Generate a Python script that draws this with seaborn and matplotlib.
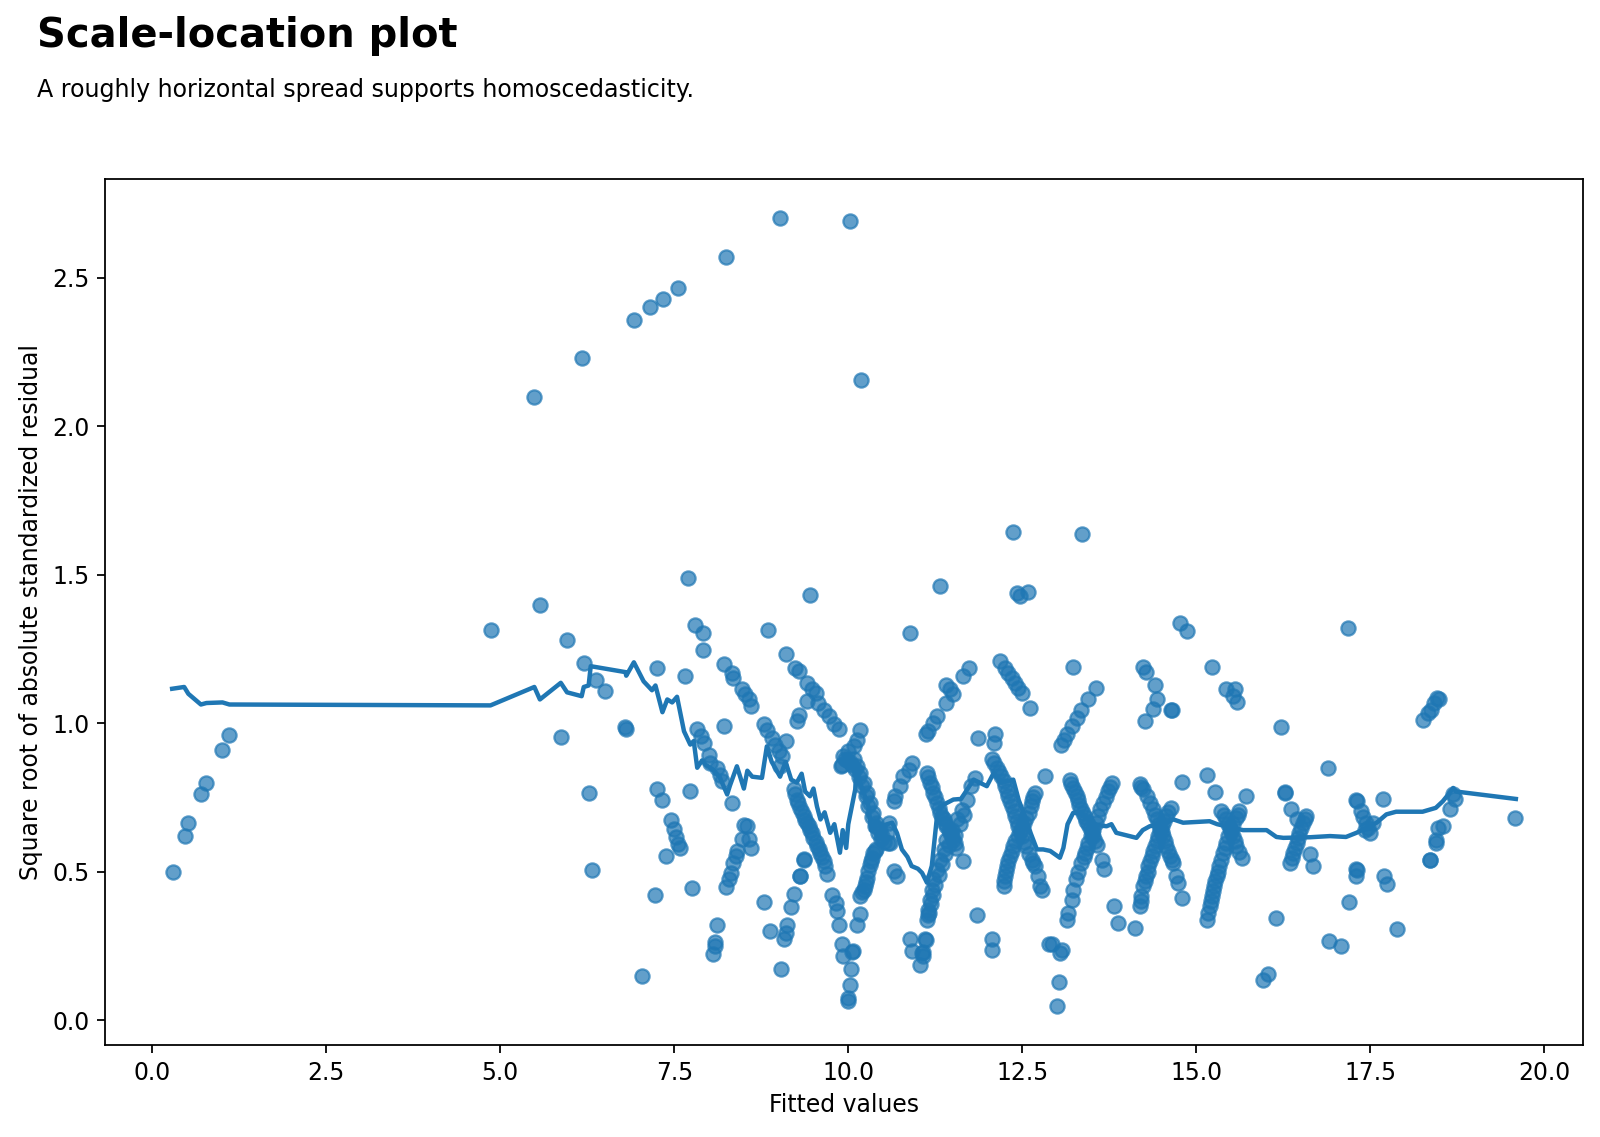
import matplotlib
matplotlib.use("Agg")
import matplotlib.pyplot as plt
import seaborn as sns
import pandas as pd

# fitted values / sqrt(|standardized residual|), grouped by x region
fitted_a = [0.30, 0.47, 0.52, 0.70, 0.77, 1.00, 1.10]
resid_a = [0.50, 0.62, 0.665, 0.76, 0.80, 0.91, 0.96]

fitted_b = [4.87, 5.49, 5.57, 5.87, 5.96, 6.18, 6.20, 6.27, 6.32, 6.37, 6.50, 6.79, 6.80, 6.92,
            7.03, 7.15, 7.22, 7.245, 7.245, 7.32, 7.34, 7.38, 7.45, 7.50, 7.53, 7.56, 7.58, 7.55,
            7.66, 7.70, 7.73, 7.75, 7.80, 7.91, 7.91]
resid_b = [1.313, 2.10, 1.398, 0.954, 1.28, 2.229, 1.203, 0.766, 0.505, 1.147, 1.108, 0.988, 0.982, 2.356,
           0.148, 2.40, 0.42, 1.186, 0.779, 0.74, 2.43, 0.552, 0.673, 0.643, 0.618, 0.592, 0.581, 2.467,
           1.158, 1.49, 0.771, 0.446, 1.332, 1.304, 1.245]

fitted_c = [7.83, 7.88, 7.93, 8.00, 8.02, 8.12, 8.16, 8.19,
            8.21, 8.25, 8.33, 8.35, 8.47, 8.52, 8.57, 8.60, 8.21, 8.33,
            8.50, 8.55, 8.47, 8.57, 8.60, 8.40, 8.38, 8.34, 8.31, 8.28, 8.25,
            8.12, 8.09, 8.08, 8.06]
resid_c = [0.979, 0.956, 0.932, 0.894, 0.866, 0.849, 0.827, 0.805,
           1.201, 2.57, 1.170, 1.153, 1.116, 1.097, 1.080, 1.059, 0.990, 0.730,
           0.656, 0.653, 0.611, 0.609, 0.581, 0.570, 0.553, 0.531, 0.497, 0.474, 0.449,
           0.319, 0.265, 0.250, 0.222]

fitted_d = [8.85, 9.02, 9.10, 9.45,
            8.785, 8.83, 8.90, 8.95, 9.00, 9.05, 9.10, 9.02,
            9.24, 9.29, 9.41, 9.48, 9.53, 9.57, 9.65, 9.72, 9.79, 9.86, 9.41, 9.29, 9.26,
            9.215, 9.26, 9.31, 9.36, 9.41, 9.45, 9.50, 9.55, 9.60, 9.65, 9.70,
            9.36, 9.37, 9.30, 9.31,
            9.22, 9.18, 8.795, 8.88, 9.12, 9.10, 9.07, 9.04,
            9.77, 9.82, 9.84, 9.86, 9.91, 9.93]
resid_d = [1.313, 2.70, 1.234, 1.433,
           0.996, 0.978, 0.950, 0.928, 0.906, 0.889, 0.940, 0.855,
           1.186, 1.175, 1.136, 1.114, 1.103, 1.069, 1.046, 1.024, 0.996, 0.979, 1.074, 1.029, 1.007,
           0.777, 0.743, 0.715, 0.687, 0.665, 0.642, 0.614, 0.586, 0.564, 0.536, 0.491,
           0.543, 0.540, 0.487, 0.484,
           0.425, 0.38, 0.397, 0.302, 0.322, 0.294, 0.272, 0.173,
           0.423, 0.395, 0.367, 0.319, 0.255, 0.215]

fitted_e = [10.02, 10.18, 10.89,
            10.07, 10.05, 10.04, 10.02, 10.00, 9.99, 10.17, 10.13,
            9.89, 9.91, 9.93, 10.00, 10.08, 10.13, 10.17,
            9.95, 10.03, 10.08, 10.13, 10.17, 10.22, 10.27, 10.31, 10.36, 10.40, 10.45, 10.49, 10.57, 10.59,
            10.17, 10.22, 10.24, 10.27, 10.29, 10.31, 10.34, 10.36, 10.40, 10.55, 10.60,
            10.65, 10.70,
            10.65, 10.67, 10.75, 10.79, 10.87, 10.91]
resid_e = [2.69, 2.157, 1.304,
           0.232, 0.228, 0.171, 0.120, 0.075, 0.064, 0.356, 0.322,
           0.855, 0.86, 0.889, 0.906, 0.922, 0.945, 0.976,
           0.88, 0.87, 0.878, 0.855, 0.833, 0.80, 0.766, 0.732, 0.698, 0.664, 0.642, 0.62, 0.597, 0.664,
           0.417, 0.439, 0.451, 0.479, 0.502, 0.524, 0.547, 0.564, 0.575, 0.631, 0.597,
           0.502, 0.485,
           0.737, 0.754, 0.788, 0.822, 0.844, 0.867]

fitted_f = [10.89, 10.91, 11.06, 11.07, 11.10, 11.11, 11.03, 11.08,
            11.13, 11.18, 11.22, 11.27, 11.32, 11.37, 11.41, 11.46, 11.51, 11.55,
            11.13, 11.14, 11.15, 11.17, 11.20, 11.22, 11.27, 11.32, 11.37, 11.41, 11.49, 11.56, 11.63, 11.70,
            11.77, 11.82,
            11.65, 11.85, 11.32,
            11.12, 11.15, 11.22, 11.27, 11.41, 11.41, 11.46, 11.51, 11.65, 11.73, 11.87]
resid_f = [0.272, 0.232, 0.226, 0.23, 0.272, 0.27, 0.187, 0.215,
           0.833, 0.80, 0.766, 0.732, 0.698, 0.676, 0.653, 0.631, 0.608, 0.58,
           0.339, 0.355, 0.372, 0.406, 0.440, 0.474, 0.507, 0.541, 0.575, 0.608, 0.642, 0.676, 0.709, 0.743,
           0.788, 0.816,
           0.535, 0.353, 1.461,
           0.962, 0.973, 1.0, 1.024, 1.068, 1.13, 1.114, 1.1, 1.158, 1.186, 0.95]

fitted_g = [12.06, 12.07, 12.11, 12.09,
            12.18, 12.25, 12.30, 12.35, 12.39, 12.44, 12.49, 12.61,
            12.37, 12.42, 12.47, 12.58,
            12.06, 12.13, 12.20, 12.25, 12.30, 12.35, 12.40, 12.44, 12.49, 12.56, 12.64, 12.68,
            12.23, 12.25, 12.28, 12.32, 12.37, 12.44, 12.52, 12.59, 12.64, 12.68,
            12.73, 12.75, 12.78, 12.83, 12.88]
resid_g = [0.272, 0.237, 0.965, 0.934,
           1.209, 1.187, 1.17, 1.153, 1.136, 1.12, 1.102, 1.052,
           1.643, 1.437, 1.428, 1.442,
           0.878, 0.85, 0.822, 0.788, 0.754, 0.72, 0.687, 0.653, 0.62, 0.586, 0.541, 0.519,
           0.451, 0.485, 0.519, 0.552, 0.586, 0.62, 0.665, 0.698, 0.737, 0.766,
           0.485, 0.451, 0.44, 0.822, 0.255]

fitted_h = [12.92, 13.07, 13.04, 13.02, 13.00, 13.36, 13.23,
            13.06, 13.10, 13.14, 13.21, 13.28, 13.35, 13.45, 13.56,
            13.18, 13.23, 13.28, 13.32, 13.37, 13.42, 13.47, 13.52, 13.57,
            13.35, 13.40, 13.45, 13.52, 13.59, 13.66, 13.73, 13.79,
            13.14, 13.16, 13.21, 13.23, 13.27, 13.30,
            13.64, 13.68, 13.82, 13.88, 14.12]
resid_h = [0.255, 0.238, 0.227, 0.128, 0.049, 1.638, 1.189,
           0.928, 0.945, 0.962, 0.99, 1.018, 1.046, 1.08, 1.119,
           0.81, 0.782, 0.754, 0.726, 0.698, 0.67, 0.647, 0.62, 0.59,
           0.53, 0.563, 0.597, 0.642, 0.687, 0.732, 0.771, 0.8,
           0.339, 0.362, 0.406, 0.44, 0.474, 0.50,
           0.541, 0.51, 0.384, 0.326, 0.311]

fitted_i = [14.24, 14.28, 14.40, 14.43, 14.38, 14.64, 14.65, 14.26, 14.76, 14.86,
            14.19, 14.24, 14.29, 14.38, 14.43, 14.48, 14.52, 14.57, 14.62, 14.67,
            14.19, 14.21, 14.24, 14.28, 14.31, 14.36, 14.40, 14.45, 14.50, 14.57, 14.64,
            14.71, 14.74, 14.80, 14.80]
resid_i = [1.189, 1.172, 1.13, 1.08, 1.048, 1.046, 1.044, 1.007, 1.338, 1.31,
           0.794, 0.777, 0.754, 0.71, 0.676, 0.647, 0.62, 0.586, 0.552, 0.53,
           0.384, 0.417, 0.451, 0.485, 0.518, 0.552, 0.586, 0.62, 0.653, 0.687, 0.715,
           0.485, 0.462, 0.41, 0.802]

fitted_j = [15.23, 15.43, 15.55, 15.53, 15.58, 15.15, 15.27, 15.71,
            15.36, 15.43, 15.48, 15.52, 15.57, 15.65,
            15.15, 15.19, 15.22, 15.25, 15.29, 15.33, 15.38, 15.43, 15.50, 15.57, 15.62]
resid_j = [1.189, 1.116, 1.114, 1.092, 1.07, 0.827, 0.768, 0.755,
           0.704, 0.676, 0.647, 0.62, 0.586, 0.547,
           0.339, 0.384, 0.417, 0.451, 0.485, 0.518, 0.563, 0.597, 0.642, 0.681, 0.704]

fitted_k = [15.96, 16.03, 16.15, 16.22, 16.89, 16.27, 16.28, 16.36, 16.44,
            16.34, 16.39, 16.44, 16.48, 16.53, 16.58, 16.63, 16.67, 16.91, 17.08]
resid_k = [0.137, 0.154, 0.345, 0.988, 0.85, 0.768, 0.766, 0.71, 0.676,
           0.53, 0.563, 0.597, 0.631, 0.665, 0.687, 0.558, 0.52, 0.267, 0.25]

fitted_l = [17.18, 17.20, 17.30, 17.31, 17.37, 17.44, 17.54, 17.49, 17.43, 17.30, 17.31, 17.30,
            17.68, 17.70, 17.74, 17.88]
resid_l = [1.321, 0.398, 0.743, 0.737, 0.704, 0.665, 0.665, 0.631, 0.64, 0.508, 0.505, 0.485,
           0.745, 0.487, 0.457, 0.308]

fitted_m = [18.25, 18.33, 18.37, 18.41, 18.46, 18.48,
            18.35, 18.36, 18.45, 18.45, 18.47, 18.54, 18.64, 18.71, 18.69, 19.58]
resid_m = [1.012, 1.035, 1.046, 1.068, 1.085, 1.08,
           0.54, 0.54, 0.597, 0.608, 0.648, 0.653, 0.71, 0.745, 0.76, 0.681]

# extra points inside the thick, overlapping bands (the "X" shapes)
fitted_band = [9.24, 9.28, 9.33, 9.38, 9.43, 9.48, 9.53, 9.58, 9.62, 9.67,
               9.98, 10.05, 10.10, 10.15, 10.20, 10.25, 10.29, 10.34, 10.38, 10.43, 10.47, 10.52,
               10.19, 10.26, 10.33, 10.38,
               11.15, 11.20, 11.25, 11.30, 11.35, 11.39, 11.44, 11.49, 11.53,
               11.16, 11.19, 11.21, 11.25, 11.30, 11.35, 11.39, 11.45, 11.53, 11.60, 11.66,
               12.09, 12.16, 12.23, 12.28, 12.33, 12.38, 12.42, 12.47, 12.53, 12.60, 12.66,
               12.24, 12.27, 12.30, 12.35, 12.40, 12.48, 12.55, 12.62, 12.66,
               13.20, 13.25, 13.30, 13.35, 13.40, 13.45, 13.50, 13.55,
               13.38, 13.43, 13.48, 13.56, 13.62, 13.70, 13.76,
               14.21, 14.33, 14.41, 14.46, 14.50, 14.55, 14.60, 14.65,
               14.20, 14.26, 14.30, 14.34, 14.38, 14.43, 14.48, 14.53, 14.60,
               15.40, 15.45, 15.50, 15.55, 15.61,
               15.17, 15.21, 15.24, 15.27, 15.31, 15.36, 15.41, 15.46, 15.53, 15.60,
               16.37, 16.42, 16.46, 16.51, 16.56, 17.40, 17.47]
resid_band = [0.76, 0.73, 0.70, 0.675, 0.655, 0.63, 0.60, 0.575, 0.55, 0.52,
              0.875, 0.86, 0.845, 0.82, 0.79, 0.755, 0.72, 0.685, 0.655, 0.63, 0.61, 0.60,
              0.43, 0.465, 0.535, 0.57,
              0.82, 0.785, 0.75, 0.715, 0.685, 0.665, 0.64, 0.62, 0.595,
              0.36, 0.39, 0.42, 0.455, 0.49, 0.525, 0.56, 0.59, 0.625, 0.66, 0.69,
              0.865, 0.836, 0.805, 0.771, 0.737, 0.703, 0.67, 0.637, 0.60, 0.56, 0.53,
              0.468, 0.502, 0.535, 0.57, 0.603, 0.642, 0.681, 0.72, 0.75,
              0.796, 0.768, 0.74, 0.712, 0.684, 0.66, 0.634, 0.605,
              0.548, 0.58, 0.62, 0.665, 0.71, 0.752, 0.786,
              0.786, 0.73, 0.692, 0.66, 0.634, 0.603, 0.57, 0.54,
              0.40, 0.468, 0.50, 0.535, 0.57, 0.603, 0.637, 0.67, 0.70,
              0.69, 0.66, 0.634, 0.603, 0.566,
              0.36, 0.40, 0.434, 0.468, 0.50, 0.54, 0.58, 0.62, 0.66, 0.692,
              0.547, 0.58, 0.614, 0.648, 0.676, 0.685, 0.648]

# smoothed trend line
smooth_x = [0.287, 0.46, 0.52, 0.70, 0.78, 1.01, 1.11, 4.86, 5.49, 5.57, 5.87, 5.96, 6.17, 6.20,
            6.27, 6.30, 6.80, 6.81, 6.92, 7.06, 7.18, 7.23, 7.33, 7.40, 7.47, 7.54, 7.64, 7.73,
            7.78, 7.83, 7.90, 7.95, 8.05, 8.15, 8.26, 8.30, 8.40, 8.50, 8.55, 8.62, 8.76, 8.83,
            8.90, 9.02, 9.10, 9.18, 9.26, 9.33, 9.38, 9.45, 9.50, 9.55, 9.60, 9.66, 9.74, 9.80,
            9.88, 9.92, 9.97, 10.00, 10.10, 10.12, 10.17, 10.29, 10.33, 10.40, 10.49, 10.63,
            10.70, 10.77, 10.85, 10.91, 11.00, 11.06, 11.13, 11.20, 11.27, 11.32, 11.51, 11.62,
            11.80, 11.99, 12.09, 12.20, 12.37, 12.45, 12.55, 12.62, 12.71, 12.80, 12.90, 13.04,
            13.09, 13.15, 13.23, 13.35, 13.50, 13.71, 13.78, 13.85, 14.14, 14.23, 14.33, 14.50,
            14.67, 14.81, 15.19, 15.30, 15.67, 16.01, 16.15, 16.25, 16.63, 16.92, 17.15, 17.30,
            17.59, 17.73, 17.87, 18.25, 18.44, 18.54, 18.64, 18.69, 18.73, 19.59]
smooth_y = [1.116, 1.122, 1.099, 1.063, 1.068, 1.07, 1.063, 1.06, 1.122, 1.08, 1.136, 1.104, 1.091, 1.122,
            1.127, 1.192, 1.172, 1.16, 1.205, 1.141, 1.111, 1.127, 1.037, 1.08, 1.07, 1.089, 0.973, 0.928,
            0.94, 0.85, 0.875, 0.86, 0.845, 0.82, 0.76, 0.79, 0.855, 0.78, 0.84, 0.82, 0.816, 0.922,
            0.87, 0.82, 0.87, 0.81, 0.80, 0.83, 0.77, 0.754, 0.78, 0.72, 0.676, 0.70, 0.631, 0.66,
            0.564, 0.64, 0.58, 0.66, 0.777, 0.867, 0.80, 0.72, 0.64, 0.67, 0.655, 0.665,
            0.63, 0.575, 0.55, 0.519, 0.51, 0.496, 0.463, 0.52, 0.676, 0.72, 0.743, 0.745,
            0.81, 0.788, 0.833, 0.80, 0.81, 0.74, 0.68, 0.63, 0.575, 0.575, 0.57, 0.547,
            0.58, 0.66, 0.698, 0.70, 0.66, 0.653, 0.66, 0.631, 0.614, 0.64, 0.653, 0.66,
            0.676, 0.665, 0.67, 0.66, 0.64, 0.64, 0.617, 0.614, 0.616, 0.62, 0.617, 0.631,
            0.665, 0.693, 0.702, 0.702, 0.715, 0.737, 0.766, 0.782, 0.77, 0.745]

fitted = (fitted_a + fitted_b + fitted_c + fitted_d + fitted_e + fitted_f + fitted_g
          + fitted_h + fitted_i + fitted_j + fitted_k + fitted_l + fitted_m + fitted_band)
resid = (resid_a + resid_b + resid_c + resid_d + resid_e + resid_f + resid_g
         + resid_h + resid_i + resid_j + resid_k + resid_l + resid_m + resid_band)
df = pd.DataFrame({"fitted": fitted, "resid": resid})
trend = pd.DataFrame({"x": smooth_x, "y": smooth_y})

plt.rcParams["font.size"] = 10.6

fig = plt.figure(figsize=(10, 7.10625), dpi=160)
ax = fig.add_axes([0.0656, 0.0809, 0.9238, 0.7617])

sns.scatterplot(data=df, x="fitted", y="resid", ax=ax, s=41, alpha=0.7,
                color="#1f77b4", edgecolor="#1f77b4", linewidth=1.0)
sns.lineplot(data=trend, x="x", y="y", ax=ax, color="#1f77b4", linewidth=2,
             sort=False, estimator=None)

ax.set_xlabel("Fitted values", fontsize=10.6)
ax.set_ylabel("Square root of absolute standardized residual", fontsize=10.6)
ax.tick_params(labelsize=10.6)

fig.text(0.023, 0.9589, "Scale-location plot", fontsize=18, fontweight="bold", va="baseline")
fig.text(0.023, 0.915, "A roughly horizontal spread supports homoscedasticity.", fontsize=10.7,
         va="baseline")

fig.savefig("out.png", dpi=160)
